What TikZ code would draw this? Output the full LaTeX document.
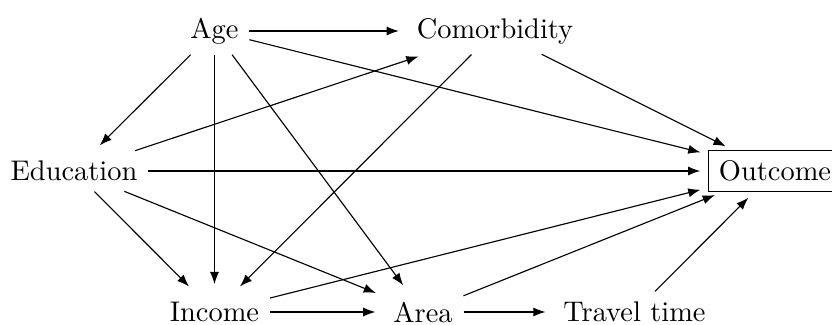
\documentclass[tikz,border=0pt]{standalone}
\usetikzlibrary{arrows.meta}
\begin{document}
\begin{tikzpicture}[x=0.352pt,y=-0.352pt,
  var/.style={inner sep=3.33pt},
  outbox/.style={draw,inner sep=3.6pt,line width=0.4pt},
  edge/.style={-{Latex[length=4.3pt,width=3.2pt]},shorten >=2.8pt,shorten <=0.3pt,line width=0.4pt}]
\useasboundingbox (0,0) rectangle (832,325);
\node[var] (age) at (214.5,31) {Age};
\node[var] (com) at (495,31) {Comorbidity};
\node[var] (edu) at (74,171) {Education};
\node[outbox] (out) at (775,171) {Outcome};
\node[var] (inc) at (214.5,312) {Income};
\node[var] (area) at (423,312) {Area};
\node[var] (tt) at (634.5,312) {Travel time};
\draw[edge] (age) -- (com);
\draw[edge] (age) -- (out);
\draw[edge] (age) -- (edu);
\draw[edge] (age) -- (inc);
\draw[edge] (age) -- (area);
\draw[edge] (com) -- (out);
\draw[edge] (com) -- (inc);
\draw[edge] (edu) -- (com);
\draw[edge] (edu) -- (out);
\draw[edge] (edu) -- (inc);
\draw[edge] (edu) -- (area);
\draw[edge] (inc) -- (area);
\draw[edge] (inc) -- (out);
\draw[edge] (area) -- (out);
\draw[edge] (area) -- (tt);
\draw[edge] (tt) -- (out);
\end{tikzpicture}
\end{document}
